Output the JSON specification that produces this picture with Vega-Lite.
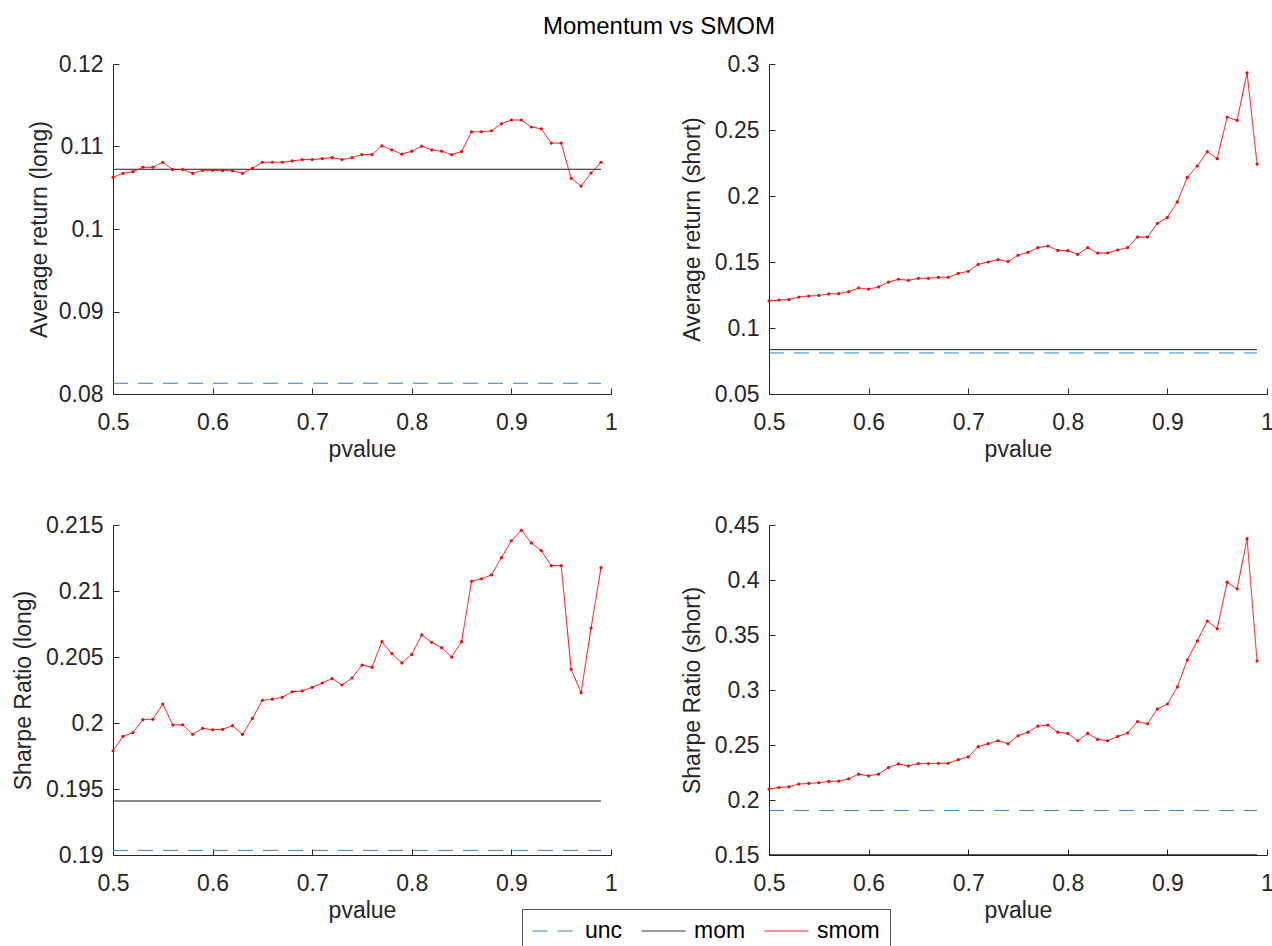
{
  "$schema": "https://vega.github.io/schema/vega-lite/v6.json",
  "padding": {"left": 12, "top": 15, "right": 0, "bottom": 0},
  "title": {"text": "Momentum vs SMOM", "fontSize": 24, "font": "Liberation Sans", "fontWeight": "normal", "color": "#000000", "anchor": "middle", "offset": 14, "dx": 16},
  "datasets": {
    "smom": [
      {"p": 0.50, "a": 0.10626, "b": 0.1205, "c": 0.19790, "d": 0.2099},
      {"p": 0.51, "a": 0.10675, "b": 0.1212, "c": 0.19899, "d": 0.2114},
      {"p": 0.52, "a": 0.10695, "b": 0.1215, "c": 0.19927, "d": 0.2120},
      {"p": 0.53, "a": 0.10748, "b": 0.1235, "c": 0.20025, "d": 0.2145},
      {"p": 0.54, "a": 0.10748, "b": 0.1242, "c": 0.20028, "d": 0.2151},
      {"p": 0.55, "a": 0.10809, "b": 0.1247, "c": 0.20144, "d": 0.2157},
      {"p": 0.56, "a": 0.10720, "b": 0.1258, "c": 0.19985, "d": 0.2169},
      {"p": 0.57, "a": 0.10720, "b": 0.1260, "c": 0.19987, "d": 0.2172},
      {"p": 0.58, "a": 0.10675, "b": 0.1275, "c": 0.19914, "d": 0.2193},
      {"p": 0.59, "a": 0.10711, "b": 0.1303, "c": 0.19960, "d": 0.2235},
      {"p": 0.60, "a": 0.10711, "b": 0.1295, "c": 0.19949, "d": 0.2220},
      {"p": 0.61, "a": 0.10707, "b": 0.1311, "c": 0.19952, "d": 0.2235},
      {"p": 0.62, "a": 0.10707, "b": 0.1348, "c": 0.19980, "d": 0.2295},
      {"p": 0.63, "a": 0.10675, "b": 0.1369, "c": 0.19914, "d": 0.2328},
      {"p": 0.64, "a": 0.10736, "b": 0.1361, "c": 0.20035, "d": 0.2310},
      {"p": 0.65, "a": 0.10809, "b": 0.1376, "c": 0.20172, "d": 0.2331},
      {"p": 0.66, "a": 0.10809, "b": 0.1376, "c": 0.20181, "d": 0.2331},
      {"p": 0.67, "a": 0.10809, "b": 0.1384, "c": 0.20195, "d": 0.2334},
      {"p": 0.68, "a": 0.10825, "b": 0.1384, "c": 0.20237, "d": 0.2334},
      {"p": 0.69, "a": 0.10841, "b": 0.1414, "c": 0.20243, "d": 0.2367},
      {"p": 0.70, "a": 0.10841, "b": 0.1429, "c": 0.20270, "d": 0.2392},
      {"p": 0.71, "a": 0.10854, "b": 0.1482, "c": 0.20303, "d": 0.2485},
      {"p": 0.72, "a": 0.10866, "b": 0.1500, "c": 0.20336, "d": 0.2512},
      {"p": 0.73, "a": 0.10841, "b": 0.1518, "c": 0.20288, "d": 0.2539},
      {"p": 0.74, "a": 0.10866, "b": 0.1503, "c": 0.20341, "d": 0.2512},
      {"p": 0.75, "a": 0.10902, "b": 0.1551, "c": 0.20439, "d": 0.2584},
      {"p": 0.76, "a": 0.10902, "b": 0.1573, "c": 0.20422, "d": 0.2617},
      {"p": 0.77, "a": 0.11008, "b": 0.1609, "c": 0.20616, "d": 0.2672},
      {"p": 0.78, "a": 0.10959, "b": 0.1621, "c": 0.20525, "d": 0.2681},
      {"p": 0.79, "a": 0.10907, "b": 0.1588, "c": 0.20455, "d": 0.2617},
      {"p": 0.80, "a": 0.10943, "b": 0.1586, "c": 0.20520, "d": 0.2605},
      {"p": 0.81, "a": 0.11004, "b": 0.1558, "c": 0.20667, "d": 0.2539},
      {"p": 0.82, "a": 0.10959, "b": 0.1609, "c": 0.20611, "d": 0.2605},
      {"p": 0.83, "a": 0.10943, "b": 0.1568, "c": 0.20571, "d": 0.2551},
      {"p": 0.84, "a": 0.10902, "b": 0.1568, "c": 0.20500, "d": 0.2539},
      {"p": 0.85, "a": 0.10939, "b": 0.1591, "c": 0.20616, "d": 0.2578},
      {"p": 0.86, "a": 0.11179, "b": 0.1609, "c": 0.21073, "d": 0.2608},
      {"p": 0.87, "a": 0.11179, "b": 0.1689, "c": 0.21093, "d": 0.2714},
      {"p": 0.88, "a": 0.11191, "b": 0.1689, "c": 0.21121, "d": 0.2693},
      {"p": 0.89, "a": 0.11276, "b": 0.1793, "c": 0.21253, "d": 0.2828},
      {"p": 0.90, "a": 0.11321, "b": 0.1838, "c": 0.21381, "d": 0.2873},
      {"p": 0.91, "a": 0.11321, "b": 0.1955, "c": 0.21460, "d": 0.3028},
      {"p": 0.92, "a": 0.11236, "b": 0.2141, "c": 0.21364, "d": 0.3273},
      {"p": 0.93, "a": 0.11215, "b": 0.2227, "c": 0.21306, "d": 0.3446},
      {"p": 0.94, "a": 0.11041, "b": 0.2336, "c": 0.21192, "d": 0.3627},
      {"p": 0.95, "a": 0.11041, "b": 0.2283, "c": 0.21192, "d": 0.3557},
      {"p": 0.96, "a": 0.10614, "b": 0.2598, "c": 0.20407, "d": 0.3980},
      {"p": 0.97, "a": 0.10520, "b": 0.2573, "c": 0.20230, "d": 0.3920},
      {"p": 0.98, "a": 0.10679, "b": 0.2934, "c": 0.20720, "d": 0.4376},
      {"p": 0.99, "a": 0.10809, "b": 0.2242, "c": 0.21177, "d": 0.3264}
    ],
    "ref": [
      {"series": "unc", "a": 0.0813, "b": 0.0811, "c": 0.19035, "d": 0.1904},
      {"series": "mom", "a": 0.10724, "b": 0.0836, "c": 0.19409, "d": 0.1502}
    ]
  },
  "columns": 2,
  "spacing": {"row": 131, "column": 158},
  "bounds": "flush",
  "concat": [
    {
      "width": 498, "height": 330,
      "layer": [
        {"data": {"name": "ref"}, "mark": {"type": "rule", "strokeWidth": 1},
         "encoding": {
           "x": {"datum": 0.5, "type": "quantitative", "scale": {"domain": [0.5, 1], "nice": false}, "axis": {"title": "pvalue", "values": [0.5, 0.6, 0.7, 0.8, 0.9, 1], "format": "~g"}},
           "x2": {"datum": 0.99},
           "y": {"field": "a", "type": "quantitative", "scale": {"domain": [0.08, 0.12], "nice": false}, "axis": {"title": "Average return (long)", "values": [0.08, 0.09, 0.1, 0.11, 0.12], "format": "~g", "titlePadding": 7}},
           "color": {"field": "series", "type": "nominal", "scale": {"domain": ["unc", "mom", "smom"], "range": ["#2a86cc", "#1a1a1a", "#ff0000"]}, "legend": {"orient": "none", "legendX": 409, "legendY": 845, "direction": "horizontal", "title": null}},
           "strokeDash": {"field": "series", "type": "nominal", "scale": {"domain": ["unc", "mom", "smom"], "range": [[15, 10], [1, 0], [1, 0]]}, "legend": {"orient": "none", "legendX": 409, "legendY": 845, "direction": "horizontal", "title": null}}
         }},
        {"data": {"name": "smom"}, "mark": {"type": "line", "strokeWidth": 1},
         "encoding": {"x": {"field": "p", "type": "quantitative"}, "y": {"field": "a", "type": "quantitative"}, "color": {"datum": "smom"}, "strokeDash": {"datum": "smom"}}},
        {"data": {"name": "smom"}, "mark": {"type": "point", "filled": true, "size": 10, "color": "#ff0000", "opacity": 1},
         "encoding": {"x": {"field": "p", "type": "quantitative"}, "y": {"field": "a", "type": "quantitative"}}}
      ]
    },
    {
      "width": 498, "height": 330,
      "layer": [
        {"data": {"name": "ref"}, "mark": {"type": "rule", "strokeWidth": 1},
         "encoding": {
           "x": {"datum": 0.5, "type": "quantitative", "scale": {"domain": [0.5, 1], "nice": false}, "axis": {"title": "pvalue", "values": [0.5, 0.6, 0.7, 0.8, 0.9, 1], "format": "~g"}},
           "x2": {"datum": 0.99},
           "y": {"field": "b", "type": "quantitative", "scale": {"domain": [0.05, 0.3], "nice": false}, "axis": {"title": "Average return (short)", "values": [0.05, 0.1, 0.15, 0.2, 0.25, 0.3], "format": "~g"}},
           "color": {"field": "series", "type": "nominal", "scale": {"domain": ["unc", "mom", "smom"], "range": ["#2a86cc", "#1a1a1a", "#ff0000"]}, "legend": {"orient": "none", "legendX": 409, "legendY": 845, "direction": "horizontal", "title": null}},
           "strokeDash": {"field": "series", "type": "nominal", "scale": {"domain": ["unc", "mom", "smom"], "range": [[15, 10], [1, 0], [1, 0]]}, "legend": {"orient": "none", "legendX": 409, "legendY": 845, "direction": "horizontal", "title": null}}
         }},
        {"data": {"name": "smom"}, "mark": {"type": "line", "strokeWidth": 1},
         "encoding": {"x": {"field": "p", "type": "quantitative"}, "y": {"field": "b", "type": "quantitative"}, "color": {"datum": "smom"}, "strokeDash": {"datum": "smom"}}},
        {"data": {"name": "smom"}, "mark": {"type": "point", "filled": true, "size": 10, "color": "#ff0000", "opacity": 1},
         "encoding": {"x": {"field": "p", "type": "quantitative"}, "y": {"field": "b", "type": "quantitative"}}}
      ]
    },
    {
      "width": 498, "height": 330,
      "layer": [
        {"data": {"name": "ref"}, "mark": {"type": "rule", "strokeWidth": 1},
         "encoding": {
           "x": {"datum": 0.5, "type": "quantitative", "scale": {"domain": [0.5, 1], "nice": false}, "axis": {"title": "pvalue", "values": [0.5, 0.6, 0.7, 0.8, 0.9, 1], "format": "~g"}},
           "x2": {"datum": 0.99},
           "y": {"field": "c", "type": "quantitative", "scale": {"domain": [0.19, 0.215], "nice": false}, "axis": {"title": "Sharpe Ratio (long)", "values": [0.19, 0.195, 0.2, 0.205, 0.21, 0.215], "format": "~g"}},
           "color": {"field": "series", "type": "nominal", "scale": {"domain": ["unc", "mom", "smom"], "range": ["#2a86cc", "#1a1a1a", "#ff0000"]}, "legend": {"orient": "none", "legendX": 409, "legendY": 845, "direction": "horizontal", "title": null}},
           "strokeDash": {"field": "series", "type": "nominal", "scale": {"domain": ["unc", "mom", "smom"], "range": [[15, 10], [1, 0], [1, 0]]}, "legend": {"orient": "none", "legendX": 409, "legendY": 845, "direction": "horizontal", "title": null}}
         }},
        {"data": {"name": "smom"}, "mark": {"type": "line", "strokeWidth": 1},
         "encoding": {"x": {"field": "p", "type": "quantitative"}, "y": {"field": "c", "type": "quantitative"}, "color": {"datum": "smom"}, "strokeDash": {"datum": "smom"}}},
        {"data": {"name": "smom"}, "mark": {"type": "point", "filled": true, "size": 10, "color": "#ff0000", "opacity": 1},
         "encoding": {"x": {"field": "p", "type": "quantitative"}, "y": {"field": "c", "type": "quantitative"}}}
      ]
    },
    {
      "width": 498, "height": 330,
      "layer": [
        {"data": {"name": "ref"}, "mark": {"type": "rule", "strokeWidth": 1},
         "encoding": {
           "x": {"datum": 0.5, "type": "quantitative", "scale": {"domain": [0.5, 1], "nice": false}, "axis": {"title": "pvalue", "values": [0.5, 0.6, 0.7, 0.8, 0.9, 1], "format": "~g"}},
           "x2": {"datum": 0.99},
           "y": {"field": "d", "type": "quantitative", "scale": {"domain": [0.15, 0.45], "nice": false}, "axis": {"title": "Sharpe Ratio (short)", "values": [0.15, 0.2, 0.25, 0.3, 0.35, 0.4, 0.45], "format": "~g"}},
           "color": {"field": "series", "type": "nominal", "scale": {"domain": ["unc", "mom", "smom"], "range": ["#2a86cc", "#1a1a1a", "#ff0000"]}, "legend": {"orient": "none", "legendX": 409, "legendY": 845, "direction": "horizontal", "title": null}},
           "strokeDash": {"field": "series", "type": "nominal", "scale": {"domain": ["unc", "mom", "smom"], "range": [[15, 10], [1, 0], [1, 0]]}, "legend": {"orient": "none", "legendX": 409, "legendY": 845, "direction": "horizontal", "title": null}}
         }},
        {"data": {"name": "smom"}, "mark": {"type": "line", "strokeWidth": 1},
         "encoding": {"x": {"field": "p", "type": "quantitative"}, "y": {"field": "d", "type": "quantitative"}, "color": {"datum": "smom"}, "strokeDash": {"datum": "smom"}}},
        {"data": {"name": "smom"}, "mark": {"type": "point", "filled": true, "size": 10, "color": "#ff0000", "opacity": 1},
         "encoding": {"x": {"field": "p", "type": "quantitative"}, "y": {"field": "d", "type": "quantitative"}}}
      ]
    }
  ],
  "config": {
    "font": "Liberation Sans",
    "view": {"stroke": null},
    "axis": {"grid": false, "domainColor": "#262626", "tickColor": "#262626", "labelColor": "#262626", "titleColor": "#262626", "labelFont": "Liberation Sans", "titleFont": "Liberation Sans", "labelFontSize": 23, "titleFontSize": 23, "titleFontWeight": "normal", "tickSize": -6, "domainWidth": 1, "tickWidth": 1, "labelFlush": false, "labelOverlap": false},
    "axisX": {"labelPadding": 23, "titlePadding": 4},
    "axisY": {"labelPadding": 16, "titlePadding": 10},
    "legend": {"strokeColor": "#555555", "fillColor": "#ffffff", "padding": 10, "symbolType": "stroke", "symbolSize": 1936, "symbolStrokeWidth": 1, "clipHeight": 24, "labelFont": "Liberation Sans", "labelFontSize": 23, "labelColor": "#000000", "labelOffset": 8, "columnPadding": 18, "cornerRadius": 0}
  }
}
